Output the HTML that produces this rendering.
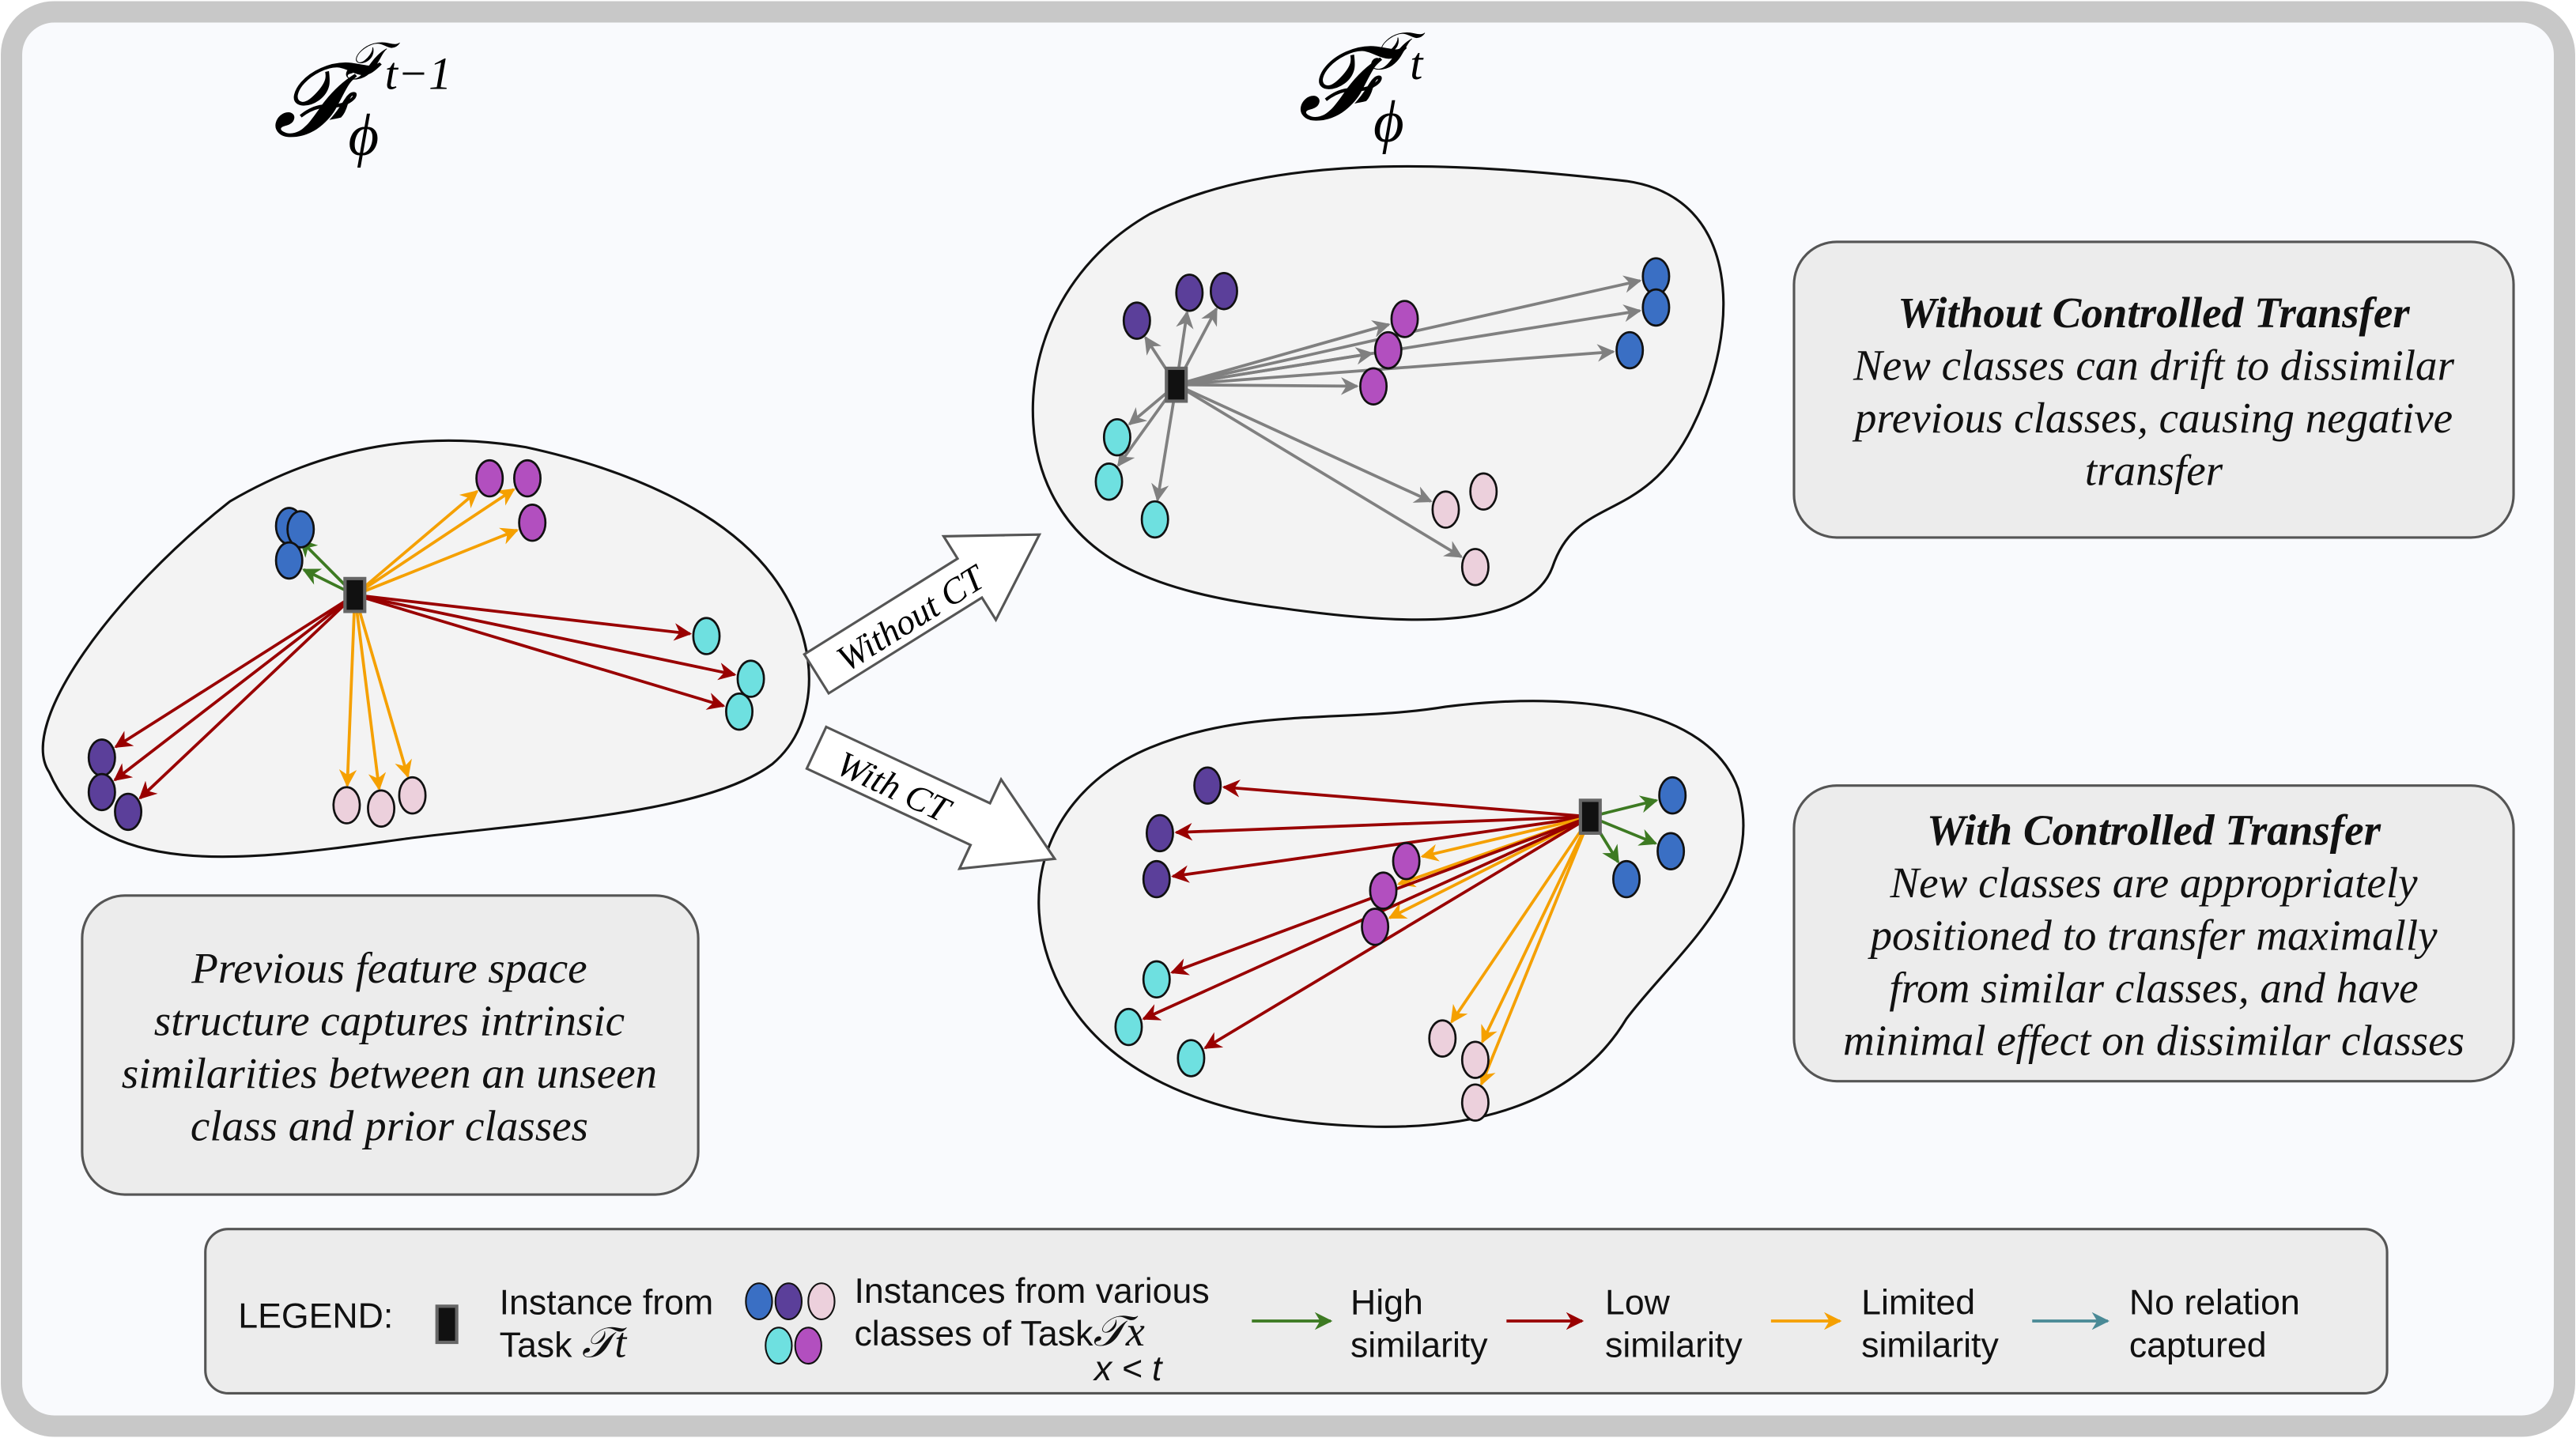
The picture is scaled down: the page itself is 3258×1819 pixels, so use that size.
<!DOCTYPE html>
<html><head><meta charset="utf-8"><style>
html,body{margin:0;padding:0;background:#fff}
svg{display:block}
.t{font-family:"Liberation Serif",serif;font-style:italic;font-size:26.5px;fill:#111}
.l{font-family:"Liberation Sans",sans-serif;font-size:21.5px;fill:#111}
</style></head><body>
<svg width="3258" height="1819" viewBox="0 0 1568 875" xmlns="http://www.w3.org/2000/svg">
<defs>
<marker id="mg" viewBox="0 0 10 10" refX="9" refY="5" markerWidth="6" markerHeight="6" orient="auto"><path d="M0,0L10,5L0,10L3,5z" fill="#3d7a22"/></marker>
<marker id="mr" viewBox="0 0 10 10" refX="9" refY="5" markerWidth="6" markerHeight="6" orient="auto"><path d="M0,0L10,5L0,10L3,5z" fill="#990000"/></marker>
<marker id="mo" viewBox="0 0 10 10" refX="9" refY="5" markerWidth="6" markerHeight="6" orient="auto"><path d="M0,0L10,5L0,10L3,5z" fill="#f5a000"/></marker>
<marker id="my" viewBox="0 0 10 10" refX="9" refY="5" markerWidth="6" markerHeight="6" orient="auto"><path d="M0,0L10,5L0,10L3,5z" fill="#808080"/></marker>
<marker id="mt" viewBox="0 0 10 10" refX="9" refY="5" markerWidth="6" markerHeight="6" orient="auto"><path d="M0,0L10,5L0,10L3,5z" fill="#4a8a96"/></marker>
</defs>
<rect x="7" y="7" width="1554" height="861" rx="26" fill="#f9fafd" stroke="#c8c8c8" stroke-width="13"/>
<text x="166" y="82" font-family="Liberation Serif,serif" font-style="italic" font-size="62">𝓕<tspan font-size="32" dx="-2" dy="-34">𝒯</tspan><tspan font-size="28" dy="6">t−1</tspan></text>
<text x="212" y="94" font-family="Liberation Serif,serif" font-style="italic" font-size="36">ϕ</text>
<text x="790" y="72" font-family="Liberation Serif,serif" font-style="italic" font-size="62">𝓕<tspan font-size="32" dx="-2" dy="-30">𝒯</tspan><tspan font-size="28" dy="6">t</tspan></text>
<text x="836" y="86" font-family="Liberation Serif,serif" font-style="italic" font-size="36">ϕ</text>

<path d="M30,470 C10,440 70,360 140,305 C200,270 260,262 320,272 C380,285 440,310 470,350 C500,390 500,440 470,465 C430,495 330,500 250,510 C160,522 60,540 30,470Z" fill="#f3f3f3" stroke="#111" stroke-width="1.5"/>
<path d="M640,300 C615,250 630,170 700,130 C780,90 900,100 990,110 C1060,120 1060,200 1030,260 C1000,320 960,300 945,345 C930,385 850,380 780,370 C700,360 660,340 640,300Z" fill="#f3f3f3" stroke="#111" stroke-width="1.5"/>
<path d="M645,600 C615,540 640,480 700,455 C760,430 820,440 880,430 C960,420 1040,430 1058,480 C1075,540 1020,580 990,620 C960,670 900,690 820,685 C730,680 670,650 645,600Z" fill="#f3f3f3" stroke="#111" stroke-width="1.5"/>

<g transform="translate(497,410) rotate(-32)">
<path d="M0,-14 L110,-14 L110,-30 L160,0 L110,30 L110,14 L0,14Z" fill="#fff" stroke="#555" stroke-width="1.5"/>
<text x="16" y="9" font-family="Liberation Serif,serif" font-style="italic" font-size="22">Without CT</text></g>
<g transform="translate(497,455) rotate(25)">
<path d="M0,-14 L110,-14 L110,-30 L160,0 L110,30 L110,14 L0,14Z" fill="#fff" stroke="#555" stroke-width="1.5"/>
<text x="16" y="9" font-family="Liberation Serif,serif" font-style="italic" font-size="22">With CT</text></g>

<g id="arrows"></g><g id="dots"></g>

<rect x="1092" y="147" width="438" height="180" rx="26" fill="#ececec" stroke="#555" stroke-width="1.5"/>
<text class="t" text-anchor="middle" x="1311" y="199"><tspan font-weight="bold">Without Controlled Transfer</tspan><tspan x="1311" dy="32">New classes can drift to dissimilar</tspan><tspan x="1311" dy="32">previous classes, causing negative</tspan><tspan x="1311" dy="32">transfer</tspan></text>
<rect x="1092" y="478" width="438" height="180" rx="26" fill="#ececec" stroke="#555" stroke-width="1.5"/>
<text class="t" text-anchor="middle" x="1311" y="514"><tspan font-weight="bold">With Controlled Transfer</tspan><tspan x="1311" dy="32">New classes are appropriately</tspan><tspan x="1311" dy="32">positioned to transfer maximally</tspan><tspan x="1311" dy="32">from similar classes, and have</tspan><tspan x="1311" dy="32">minimal effect on dissimilar classes</tspan></text>
<rect x="50" y="545" width="375" height="182" rx="26" fill="#ececec" stroke="#555" stroke-width="1.5"/>
<text class="t" text-anchor="middle" x="237" y="598"><tspan>Previous feature space</tspan><tspan x="237" dy="32">structure captures intrinsic</tspan><tspan x="237" dy="32">similarities between an unseen</tspan><tspan x="237" dy="32">class and prior classes</tspan></text>

<g>
<rect x="125" y="748" width="1328" height="100" rx="14" fill="#ececec" stroke="#555" stroke-width="1.5"/>
<text class="l" x="145" y="808">LEGEND:</text>
<rect x="266" y="795" width="12" height="22" fill="#111" stroke="#666" stroke-width="2"/>
<text class="l" x="304" y="800">Instance from</text><text class="l" x="304" y="826">Task <tspan font-family="Liberation Serif,serif" font-style="italic" font-size="26">𝒯t</tspan></text>
<ellipse cx="462" cy="792" rx="8" ry="11" fill="#3a6fc4" stroke="#111"/><ellipse cx="480" cy="792" rx="8" ry="11" fill="#5b3f9a" stroke="#111"/><ellipse cx="500" cy="792" rx="8" ry="11" fill="#ecd0dc" stroke="#111"/>
<ellipse cx="474" cy="819" rx="8" ry="11" fill="#6ee0e0" stroke="#111"/><ellipse cx="492" cy="819" rx="8" ry="11" fill="#b24fbf" stroke="#111"/>
<text class="l" x="520" y="793">Instances from various</text><text class="l" x="520" y="819">classes of Task<tspan font-family="Liberation Serif,serif" font-style="italic" font-size="26">𝒯x</tspan></text>
<text class="l" x="666" y="840" font-style="italic">x &lt; t</text>
<line x1="762" y1="804" x2="810" y2="804" stroke="#3d7a22" stroke-width="1.8" marker-end="url(#mg)"/>
<text class="l" x="822" y="800">High</text><text class="l" x="822" y="826">similarity</text>
<line x1="917" y1="804" x2="963" y2="804" stroke="#990000" stroke-width="1.8" marker-end="url(#mr)"/>
<text class="l" x="977" y="800">Low</text><text class="l" x="977" y="826">similarity</text>
<line x1="1078" y1="804" x2="1120" y2="804" stroke="#f5a000" stroke-width="1.8" marker-end="url(#mo)"/>
<text class="l" x="1133" y="800">Limited</text><text class="l" x="1133" y="826">similarity</text>
<line x1="1237" y1="804" x2="1283" y2="804" stroke="#4a8a96" stroke-width="1.8" marker-end="url(#mt)"/>
<text class="l" x="1296" y="800">No relation</text><text class="l" x="1296" y="826">captured</text>
</g>
</svg>
<script>
const C={b:'#3a6fc4',p:'#5b3f9a',m:'#b24fbf',c:'#6ee0e0',k:'#ecd0dc'};
const L={g:'#3d7a22',r:'#990000',o:'#f5a000',y:'#808080'};
const groups=[
 {name:'previous',src:[216,362],dots:[['b',176,320,'g'],['b',183,322,''],['b',176,341,'g'],['p',62,461,'r'],['p',62,482,'r'],['p',78,494,'r'],['m',298,291,'o'],['m',321,291,'o'],['m',324,318,'o'],['c',430,387,'r'],['c',457,413,'r'],['c',450,433,'r'],['k',211,490,'o'],['k',232,492,'o'],['k',251,484,'o']]},
 {name:'without',src:[716,234],dots:[['p',692,195,'y'],['p',724,178,'y'],['p',745,177,'y'],['m',855,194,'y'],['m',845,213,'y'],['m',836,235,'y'],['b',1008,168,'y'],['b',1008,187,'y'],['b',992,213,'y'],['c',680,266,'y'],['c',675,293,'y'],['c',703,316,'y'],['k',880,310,'y'],['k',903,299,''],['k',898,345,'y']]},
 {name:'with',src:[968,497],dots:[['p',735,478,'r'],['p',706,507,'r'],['p',704,535,'r'],['m',856,524,'o'],['m',842,542,'o'],['m',837,564,'o'],['b',1018,484,'g'],['b',1017,518,'g'],['b',990,535,'g'],['c',704,596,'r'],['c',687,625,'r'],['c',725,644,'r'],['k',878,632,'o'],['k',898,645,'o'],['k',898,671,'o']]}
];
const NS='http://www.w3.org/2000/svg';
const A=document.getElementById('arrows'),D=document.getElementById('dots');
const mk={g:'mg',r:'mr',o:'mo',y:'my'};
groups.forEach(g=>{
 const [sx,sy]=g.src;
 g.dots.forEach(([col,x,y,a],i)=>{
  if(a){const dx=x-sx,dy=y-sy,len=Math.hypot(dx,dy),ex=x-dx/len*10,ey=y-dy/len*12;
   const l=document.createElementNS(NS,'line');
   
   
   l.setAttribute('x1',sx);l.setAttribute('y1',sy);l.setAttribute('x2',ex);l.setAttribute('y2',ey);
   l.setAttribute('stroke',L[a]);l.setAttribute('stroke-width','1.8');l.setAttribute('marker-end','url(#'+mk[a]+')');A.appendChild(l);}
  const e=document.createElementNS(NS,'ellipse');
  
  
  e.setAttribute('cx',x);e.setAttribute('cy',y);e.setAttribute('rx',8);e.setAttribute('ry',11);
  e.setAttribute('fill',C[col]);e.setAttribute('stroke','#111');e.setAttribute('stroke-width','1.3');D.appendChild(e);
 });
 const r=document.createElementNS(NS,'rect');
 
 
 r.setAttribute('x',sx-6);r.setAttribute('y',sy-10);r.setAttribute('width',12);r.setAttribute('height',20);
 r.setAttribute('fill','#111');r.setAttribute('stroke','#666');r.setAttribute('stroke-width','2');D.appendChild(r);
});
</script>
</body></html>
